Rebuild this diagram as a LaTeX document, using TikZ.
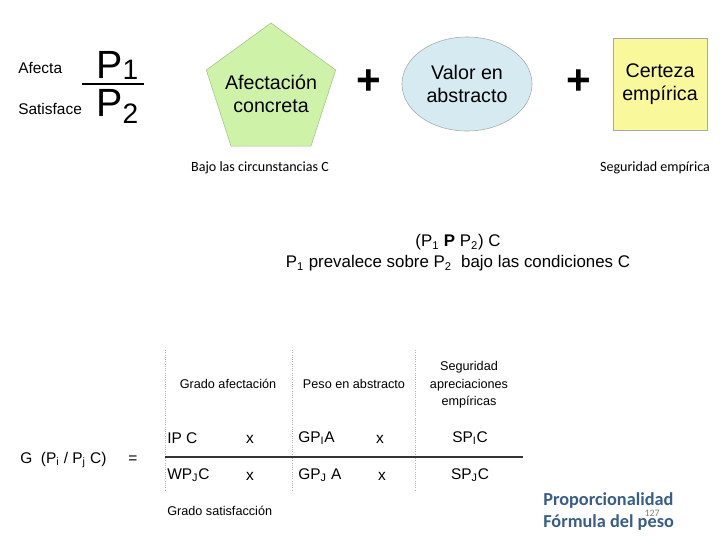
\documentclass[tikz,border=0pt]{standalone}
\usepackage{fontspec}
\setmainfont{Liberation Sans}
\newfontfamily\calibri{Carlito}
\usetikzlibrary{shapes.geometric}
\definecolor{greenfill}{HTML}{CDF2A8}
\definecolor{greenline}{HTML}{A6C48A}
\definecolor{bluefill}{HTML}{D5EBF1}
\definecolor{yellowfill}{HTML}{F9F99C}
\definecolor{shapeline}{HTML}{A8A8A8}
\definecolor{titleblue}{HTML}{385D8A}

\begin{document}
\begin{tikzpicture}[x=0.025cm, y=-0.025cm,
    txt/.style={inner sep=0pt, font=\fontsize{11}{13}\selectfont},
    big/.style={inner sep=0pt, anchor=base west, font=\fontsize{28}{30}\selectfont},
    shapetxt/.style={align=center, font=\fontsize{14}{16}\selectfont},
    pent/.style={regular polygon, regular polygon sides=5, minimum size=3.4cm, inner sep=0pt, draw=greenline, fill=greenfill},
    oval/.style={shapetxt, ellipse, minimum width=3.25cm, minimum height=2.35cm, inner sep=0pt, draw=shapeline, fill=bluefill},
    box/.style={shapetxt, rectangle, minimum width=2.35cm, minimum height=2.3cm, inner sep=0pt, draw=shapeline, fill=yellowfill},
    plus/.style={inner sep=0pt, font=\fontsize{30}{30}\selectfont\bfseries},
    note/.style={inner sep=0pt, font=\calibri\fontsize{10}{12}\selectfont},
    head/.style={inner sep=0pt, align=center, font=\fontsize{9}{12.4}\selectfont},
    cell/.style={inner sep=0pt, font=\fontsize{11}{13}\selectfont},
    sep/.style={gray!60, densely dotted, line width=0.6pt},
    rule/.style={black!80, line width=0.9pt},
    title/.style={inner sep=0pt, anchor=base west, text=titleblue, font=\calibri\fontsize{13}{15}\selectfont\bfseries},
  ]
  \useasboundingbox (0,0) rectangle (720,540);
  \node[txt, anchor=base west] (afecta) at (18,73) {Afecta};
  \node[txt, anchor=base west] (satisface) at (18,114) {Satisface};
  \node[big] (p1) at (96,78) {P\raisebox{-1pt}{\fontsize{20}{20}\selectfont 1}};
  \node[big] (p2) at (96,116) {P\raisebox{-5pt}{\fontsize{20}{20}\selectfont 2}};
  \draw[line width=1.4pt] (82,84) -- (144,84);
  \node[pent] (afect) at (271,91) {};
  \node[shapetxt] (afecttxt) at (271,94) {Afectación\\concreta};
  \node[plus] (plus1) at (369,82) {+};
  \node[oval] (valor) at (467,84) {Valor en\\abstracto};
  \node[plus] (plus2) at (579,82) {+};
  \node[box] (certeza) at (660,84) {Certeza\\empírica};
  \node[note] (bajo) at (260,168) {Bajo las circunstancias C};
  \node[note] (segur) at (655,168) {Seguridad empírica};
  \node[txt, font=\fontsize{12}{15}\selectfont, align=center] (prev) at (458,253)
    {(P\textsubscript{1} \textbf{P} P\textsubscript{2}) C\\P\textsubscript{1} prevalece sobre P\textsubscript{2}\ \ bajo las condiciones C};
  \draw[sep] (165,350) -- (165,490);
  \draw[sep] (292,350) -- (292,490);
  \draw[sep] (415,350) -- (415,490);
  \draw[rule] (165,457) -- (523,457);
  \node[head] (gafect) at (228,384) {Grado afectación};
  \node[head] (peso) at (354,384) {Peso en abstracto};
  \node[head] (segapr) at (469,385) {Seguridad\\apreciaciones\\empíricas};
  \node[cell, anchor=west] (ipc) at (167,438) {IP C};
  \node[cell] (x1) at (250,439) {x};
  \node[cell, anchor=west] (gpia) at (298,438) {GP\textsubscript{I}A};
  \node[cell] (x2) at (380,439) {x};
  \node[cell] (spic) at (470,438) {SP\textsubscript{I}C};
  \node[cell, anchor=west] (wpjc) at (167,475) {WP\textsubscript{J}C};
  \node[cell] (x3) at (250,476) {x};
  \node[cell, anchor=west] (gpja) at (298,475) {GP\textsubscript{J} A};
  \node[cell] (x4) at (382,476) {x};
  \node[cell] (spjc) at (470,475) {SP\textsubscript{J}C};
  \node[head, anchor=west] (gsat) at (167,511) {Grado satisfacción};
  \node[cell, anchor=west] (g) at (20,460) {G\ \ (P\textsubscript{i} / P\textsubscript{j} C)};
  \node[cell] (eq) at (133,460) {=};
  \node[title] (prop) at (543,505) {Proporcionalidad};
  \node[title] (form) at (543,527) {Fórmula del peso};
  \node[inner sep=0pt, text=gray, font=\calibri\fontsize{7}{8}\selectfont] (num) at (652,513) {127};
\end{tikzpicture}
\end{document}
